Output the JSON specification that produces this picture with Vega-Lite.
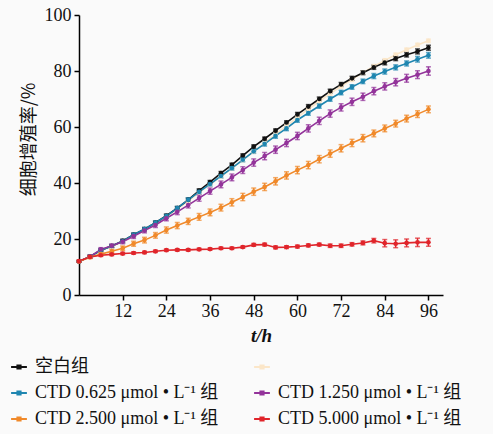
{
  "$schema": "https://vega.github.io/schema/vega-lite/v6.json",
  "autosize": {"type": "none"},
  "padding": {"left": 79, "top": 15, "right": 50, "bottom": 139},
  "width": 364,
  "height": 280,
  "background": "#fafafa",
  "config": {
    "font": "Liberation Serif, Noto Sans CJK SC",
    "view": {"stroke": null},
    "axis": {"grid": false, "domainColor": "#000", "domainWidth": 1.5, "tickColor": "#000", "tickWidth": 1.5, "tickSize": 5, "labelColor": "#111", "labelFontSize": 18, "labelFont": "Liberation Serif", "titleColor": "#111"}
  },
  "datasets": {
    "d": [
      {"t":0,"g":" ","v":12,"e":0.3},{"t":3,"g":" ","v":13.7,"e":0.5},{"t":6,"g":" ","v":15.8,"e":0.5},{"t":9,"g":" ","v":17.3,"e":0.5},{"t":12,"g":" ","v":19,"e":0.6},{"t":15,"g":" ","v":21.2,"e":0.6},{"t":18,"g":" ","v":23.3,"e":0.6},{"t":21,"g":" ","v":25.5,"e":0.6},{"t":24,"g":" ","v":28,"e":0.6},{"t":27,"g":" ","v":30.7,"e":0.6},{"t":30,"g":" ","v":33.5,"e":0.6},{"t":33,"g":" ","v":36.6,"e":0.6},{"t":36,"g":" ","v":39.5,"e":0.6},{"t":39,"g":" ","v":42.3,"e":0.6},{"t":42,"g":" ","v":45.2,"e":0.6},{"t":45,"g":" ","v":48.2,"e":0.6},{"t":48,"g":" ","v":51.2,"e":0.6},{"t":51,"g":" ","v":54.3,"e":0.6},{"t":54,"g":" ","v":57.4,"e":0.6},{"t":57,"g":" ","v":60.4,"e":0.6},{"t":60,"g":" ","v":63.4,"e":0.6},{"t":63,"g":" ","v":66.4,"e":0.6},{"t":66,"g":" ","v":69.2,"e":0.6},{"t":69,"g":" ","v":71.9,"e":0.6},{"t":72,"g":" ","v":74.5,"e":0.6},{"t":75,"g":" ","v":76.9,"e":0.6},{"t":78,"g":" ","v":79.4,"e":0.6},{"t":81,"g":" ","v":81.7,"e":0.6},{"t":84,"g":" ","v":83.8,"e":0.6},{"t":87,"g":" ","v":85.8,"e":0.6},{"t":90,"g":" ","v":87.6,"e":0.6},{"t":93,"g":" ","v":89.3,"e":0.6},{"t":96,"g":" ","v":90.8,"e":0.6},

      {"t":0,"g":"空白组","v":12,"e":0.3},{"t":3,"g":"空白组","v":13.7,"e":0.5},{"t":6,"g":"空白组","v":16,"e":0.5},{"t":9,"g":"空白组","v":17.5,"e":0.5},{"t":12,"g":"空白组","v":19.3,"e":0.6},{"t":15,"g":"空白组","v":21.5,"e":0.6},{"t":18,"g":"空白组","v":23.5,"e":0.6},{"t":21,"g":"空白组","v":25.8,"e":0.6},{"t":24,"g":"空白组","v":28.3,"e":0.6},{"t":27,"g":"空白组","v":31,"e":0.6},{"t":30,"g":"空白组","v":34,"e":0.6},{"t":33,"g":"空白组","v":37.3,"e":0.6},{"t":36,"g":"空白组","v":40.3,"e":0.6},{"t":39,"g":"空白组","v":43.5,"e":0.6},{"t":42,"g":"空白组","v":46.5,"e":0.6},{"t":45,"g":"空白组","v":49.8,"e":0.6},{"t":48,"g":"空白组","v":53,"e":0.6},{"t":51,"g":"空白组","v":55.8,"e":0.6},{"t":54,"g":"空白组","v":58.7,"e":0.6},{"t":57,"g":"空白组","v":61.6,"e":0.6},{"t":60,"g":"空白组","v":64.5,"e":0.7},{"t":63,"g":"空白组","v":67.3,"e":0.7},{"t":66,"g":"空白组","v":70,"e":0.7},{"t":69,"g":"空白组","v":72.8,"e":0.7},{"t":72,"g":"空白组","v":75.2,"e":0.7},{"t":75,"g":"空白组","v":77.4,"e":0.7},{"t":78,"g":"空白组","v":79.4,"e":0.7},{"t":81,"g":"空白组","v":81.3,"e":0.7},{"t":84,"g":"空白组","v":83,"e":0.8},{"t":87,"g":"空白组","v":84.5,"e":0.8},{"t":90,"g":"空白组","v":85.8,"e":0.8},{"t":93,"g":"空白组","v":87,"e":0.9},{"t":96,"g":"空白组","v":88.3,"e":0.9},

      {"t":0,"g":"CTD 0.625   μmol • L⁻¹ 组","v":12,"e":0.3},{"t":3,"g":"CTD 0.625   μmol • L⁻¹ 组","v":13.7,"e":0.5},{"t":6,"g":"CTD 0.625   μmol • L⁻¹ 组","v":16,"e":0.5},{"t":9,"g":"CTD 0.625   μmol • L⁻¹ 组","v":17.5,"e":0.5},{"t":12,"g":"CTD 0.625   μmol • L⁻¹ 组","v":19.2,"e":0.6},{"t":15,"g":"CTD 0.625   μmol • L⁻¹ 组","v":21.5,"e":0.6},{"t":18,"g":"CTD 0.625   μmol • L⁻¹ 组","v":23.5,"e":0.6},{"t":21,"g":"CTD 0.625   μmol • L⁻¹ 组","v":25.8,"e":0.6},{"t":24,"g":"CTD 0.625   μmol • L⁻¹ 组","v":28.2,"e":0.6},{"t":27,"g":"CTD 0.625   μmol • L⁻¹ 组","v":31,"e":0.6},{"t":30,"g":"CTD 0.625   μmol • L⁻¹ 组","v":34,"e":0.7},{"t":33,"g":"CTD 0.625   μmol • L⁻¹ 组","v":36.8,"e":0.7},{"t":36,"g":"CTD 0.625   μmol • L⁻¹ 组","v":39.6,"e":0.7},{"t":39,"g":"CTD 0.625   μmol • L⁻¹ 组","v":42.5,"e":0.7},{"t":42,"g":"CTD 0.625   μmol • L⁻¹ 组","v":45.3,"e":0.7},{"t":45,"g":"CTD 0.625   μmol • L⁻¹ 组","v":48.3,"e":0.7},{"t":48,"g":"CTD 0.625   μmol • L⁻¹ 组","v":51.3,"e":0.7},{"t":51,"g":"CTD 0.625   μmol • L⁻¹ 组","v":54,"e":0.8},{"t":54,"g":"CTD 0.625   μmol • L⁻¹ 组","v":56.8,"e":0.8},{"t":57,"g":"CTD 0.625   μmol • L⁻¹ 组","v":59.5,"e":0.8},{"t":60,"g":"CTD 0.625   μmol • L⁻¹ 组","v":62.5,"e":0.8},{"t":63,"g":"CTD 0.625   μmol • L⁻¹ 组","v":65,"e":0.8},{"t":66,"g":"CTD 0.625   μmol • L⁻¹ 组","v":67.5,"e":0.8},{"t":69,"g":"CTD 0.625   μmol • L⁻¹ 组","v":70,"e":0.8},{"t":72,"g":"CTD 0.625   μmol • L⁻¹ 组","v":72.3,"e":0.8},{"t":75,"g":"CTD 0.625   μmol • L⁻¹ 组","v":74.3,"e":0.8},{"t":78,"g":"CTD 0.625   μmol • L⁻¹ 组","v":76.3,"e":0.8},{"t":81,"g":"CTD 0.625   μmol • L⁻¹ 组","v":78.2,"e":0.9},{"t":84,"g":"CTD 0.625   μmol • L⁻¹ 组","v":79.8,"e":0.9},{"t":87,"g":"CTD 0.625   μmol • L⁻¹ 组","v":81.3,"e":0.9},{"t":90,"g":"CTD 0.625   μmol • L⁻¹ 组","v":82.7,"e":0.9},{"t":93,"g":"CTD 0.625   μmol • L⁻¹ 组","v":84.2,"e":1},{"t":96,"g":"CTD 0.625   μmol • L⁻¹ 组","v":85.6,"e":1},

      {"t":0,"g":"CTD 1.250   μmol • L⁻¹ 组","v":12,"e":0.3},{"t":3,"g":"CTD 1.250   μmol • L⁻¹ 组","v":13.7,"e":0.5},{"t":6,"g":"CTD 1.250   μmol • L⁻¹ 组","v":16.3,"e":0.6},{"t":9,"g":"CTD 1.250   μmol • L⁻¹ 组","v":17.6,"e":0.6},{"t":12,"g":"CTD 1.250   μmol • L⁻¹ 组","v":19,"e":0.7},{"t":15,"g":"CTD 1.250   μmol • L⁻¹ 组","v":21,"e":0.8},{"t":18,"g":"CTD 1.250   μmol • L⁻¹ 组","v":23,"e":0.8},{"t":21,"g":"CTD 1.250   μmol • L⁻¹ 组","v":25,"e":0.9},{"t":24,"g":"CTD 1.250   μmol • L⁻¹ 组","v":27.4,"e":0.9},{"t":27,"g":"CTD 1.250   μmol • L⁻¹ 组","v":29.7,"e":1},{"t":30,"g":"CTD 1.250   μmol • L⁻¹ 组","v":32.1,"e":1},{"t":33,"g":"CTD 1.250   μmol • L⁻¹ 组","v":34.6,"e":1.1},{"t":36,"g":"CTD 1.250   μmol • L⁻¹ 组","v":37.1,"e":1.1},{"t":39,"g":"CTD 1.250   μmol • L⁻¹ 组","v":39.5,"e":1.2},{"t":42,"g":"CTD 1.250   μmol • L⁻¹ 组","v":42,"e":1.2},{"t":45,"g":"CTD 1.250   μmol • L⁻¹ 组","v":44.6,"e":1.2},{"t":48,"g":"CTD 1.250   μmol • L⁻¹ 组","v":47.3,"e":1.3},{"t":51,"g":"CTD 1.250   μmol • L⁻¹ 组","v":49.6,"e":1.3},{"t":54,"g":"CTD 1.250   μmol • L⁻¹ 组","v":51.9,"e":1.3},{"t":57,"g":"CTD 1.250   μmol • L⁻¹ 组","v":54.3,"e":1.3},{"t":60,"g":"CTD 1.250   μmol • L⁻¹ 组","v":56.8,"e":1.3},{"t":63,"g":"CTD 1.250   μmol • L⁻¹ 组","v":59.5,"e":1.3},{"t":66,"g":"CTD 1.250   μmol • L⁻¹ 组","v":62.2,"e":1.3},{"t":69,"g":"CTD 1.250   μmol • L⁻¹ 组","v":64.8,"e":1.3},{"t":72,"g":"CTD 1.250   μmol • L⁻¹ 组","v":67,"e":1.3},{"t":75,"g":"CTD 1.250   μmol • L⁻¹ 组","v":69,"e":1.3},{"t":78,"g":"CTD 1.250   μmol • L⁻¹ 组","v":70.8,"e":1.3},{"t":81,"g":"CTD 1.250   μmol • L⁻¹ 组","v":72.8,"e":1.3},{"t":84,"g":"CTD 1.250   μmol • L⁻¹ 组","v":74.5,"e":1.3},{"t":87,"g":"CTD 1.250   μmol • L⁻¹ 组","v":76,"e":1.3},{"t":90,"g":"CTD 1.250   μmol • L⁻¹ 组","v":77.4,"e":1.4},{"t":93,"g":"CTD 1.250   μmol • L⁻¹ 组","v":78.7,"e":1.4},{"t":96,"g":"CTD 1.250   μmol • L⁻¹ 组","v":80,"e":1.5},

      {"t":0,"g":"CTD 2.500   μmol • L⁻¹ 组","v":12,"e":0.3},{"t":3,"g":"CTD 2.500   μmol • L⁻¹ 组","v":13.5,"e":0.5},{"t":6,"g":"CTD 2.500   μmol • L⁻¹ 组","v":14.6,"e":0.6},{"t":9,"g":"CTD 2.500   μmol • L⁻¹ 组","v":15.6,"e":0.7},{"t":12,"g":"CTD 2.500   μmol • L⁻¹ 组","v":16.7,"e":0.8},{"t":15,"g":"CTD 2.500   μmol • L⁻¹ 组","v":18.3,"e":0.9},{"t":18,"g":"CTD 2.500   μmol • L⁻¹ 组","v":19.6,"e":1},{"t":21,"g":"CTD 2.500   μmol • L⁻¹ 组","v":21.3,"e":1},{"t":24,"g":"CTD 2.500   μmol • L⁻¹ 组","v":23.2,"e":1.1},{"t":27,"g":"CTD 2.500   μmol • L⁻¹ 组","v":24.8,"e":1.1},{"t":30,"g":"CTD 2.500   μmol • L⁻¹ 组","v":26.3,"e":1.1},{"t":33,"g":"CTD 2.500   μmol • L⁻¹ 组","v":27.9,"e":1.2},{"t":36,"g":"CTD 2.500   μmol • L⁻¹ 组","v":29.5,"e":1.2},{"t":39,"g":"CTD 2.500   μmol • L⁻¹ 组","v":31.2,"e":1.2},{"t":42,"g":"CTD 2.500   μmol • L⁻¹ 组","v":33.1,"e":1.3},{"t":45,"g":"CTD 2.500   μmol • L⁻¹ 组","v":35,"e":1.3},{"t":48,"g":"CTD 2.500   μmol • L⁻¹ 组","v":36.9,"e":1.3},{"t":51,"g":"CTD 2.500   μmol • L⁻¹ 组","v":38.6,"e":1.3},{"t":54,"g":"CTD 2.500   μmol • L⁻¹ 组","v":40.6,"e":1.3},{"t":57,"g":"CTD 2.500   μmol • L⁻¹ 组","v":42.7,"e":1.3},{"t":60,"g":"CTD 2.500   μmol • L⁻¹ 组","v":44.6,"e":1.3},{"t":63,"g":"CTD 2.500   μmol • L⁻¹ 组","v":46.4,"e":1.3},{"t":66,"g":"CTD 2.500   μmol • L⁻¹ 组","v":48.5,"e":1.3},{"t":69,"g":"CTD 2.500   μmol • L⁻¹ 组","v":50.5,"e":1.3},{"t":72,"g":"CTD 2.500   μmol • L⁻¹ 组","v":52.4,"e":1.3},{"t":75,"g":"CTD 2.500   μmol • L⁻¹ 组","v":54.3,"e":1.3},{"t":78,"g":"CTD 2.500   μmol • L⁻¹ 组","v":56,"e":1.3},{"t":81,"g":"CTD 2.500   μmol • L⁻¹ 组","v":57.7,"e":1.2},{"t":84,"g":"CTD 2.500   μmol • L⁻¹ 组","v":59.5,"e":1.2},{"t":87,"g":"CTD 2.500   μmol • L⁻¹ 组","v":61.2,"e":1.2},{"t":90,"g":"CTD 2.500   μmol • L⁻¹ 组","v":63,"e":1.2},{"t":93,"g":"CTD 2.500   μmol • L⁻¹ 组","v":64.6,"e":1.2},{"t":96,"g":"CTD 2.500   μmol • L⁻¹ 组","v":66.3,"e":1.2},

      {"t":0,"g":"CTD 5.000   μmol • L⁻¹ 组","v":12.1,"e":0.3},{"t":3,"g":"CTD 5.000   μmol • L⁻¹ 组","v":13.6,"e":0.4},{"t":6,"g":"CTD 5.000   μmol • L⁻¹ 组","v":14.2,"e":0.4},{"t":9,"g":"CTD 5.000   μmol • L⁻¹ 组","v":14.5,"e":0.4},{"t":12,"g":"CTD 5.000   μmol • L⁻¹ 组","v":14.8,"e":0.4},{"t":15,"g":"CTD 5.000   μmol • L⁻¹ 组","v":15,"e":0.4},{"t":18,"g":"CTD 5.000   μmol • L⁻¹ 组","v":15.2,"e":0.4},{"t":21,"g":"CTD 5.000   μmol • L⁻¹ 组","v":15.6,"e":0.4},{"t":24,"g":"CTD 5.000   μmol • L⁻¹ 组","v":16,"e":0.4},{"t":27,"g":"CTD 5.000   μmol • L⁻¹ 组","v":16.1,"e":0.4},{"t":30,"g":"CTD 5.000   μmol • L⁻¹ 组","v":16.1,"e":0.4},{"t":33,"g":"CTD 5.000   μmol • L⁻¹ 组","v":16.3,"e":0.4},{"t":36,"g":"CTD 5.000   μmol • L⁻¹ 组","v":16.4,"e":0.4},{"t":39,"g":"CTD 5.000   μmol • L⁻¹ 组","v":16.7,"e":0.4},{"t":42,"g":"CTD 5.000   μmol • L⁻¹ 组","v":16.7,"e":0.4},{"t":45,"g":"CTD 5.000   μmol • L⁻¹ 组","v":17.1,"e":0.4},{"t":48,"g":"CTD 5.000   μmol • L⁻¹ 组","v":17.9,"e":0.5},{"t":51,"g":"CTD 5.000   μmol • L⁻¹ 组","v":18,"e":0.5},{"t":54,"g":"CTD 5.000   μmol • L⁻¹ 组","v":17,"e":0.5},{"t":57,"g":"CTD 5.000   μmol • L⁻¹ 组","v":17.1,"e":0.5},{"t":60,"g":"CTD 5.000   μmol • L⁻¹ 组","v":17.3,"e":0.5},{"t":63,"g":"CTD 5.000   μmol • L⁻¹ 组","v":17.7,"e":0.5},{"t":66,"g":"CTD 5.000   μmol • L⁻¹ 组","v":18,"e":0.5},{"t":69,"g":"CTD 5.000   μmol • L⁻¹ 组","v":17.6,"e":0.6},{"t":72,"g":"CTD 5.000   μmol • L⁻¹ 组","v":17.6,"e":0.6},{"t":75,"g":"CTD 5.000   μmol • L⁻¹ 组","v":18.1,"e":0.6},{"t":78,"g":"CTD 5.000   μmol • L⁻¹ 组","v":18.6,"e":0.7},{"t":81,"g":"CTD 5.000   μmol • L⁻¹ 组","v":19.4,"e":0.8},{"t":84,"g":"CTD 5.000   μmol • L⁻¹ 组","v":18.5,"e":1.3},{"t":87,"g":"CTD 5.000   μmol • L⁻¹ 组","v":18.3,"e":1.4},{"t":90,"g":"CTD 5.000   μmol • L⁻¹ 组","v":18.6,"e":1.4},{"t":93,"g":"CTD 5.000   μmol • L⁻¹ 组","v":18.8,"e":1.5},{"t":96,"g":"CTD 5.000   μmol • L⁻¹ 组","v":18.8,"e":1.4}
    ]
  },
  "data": {"name": "d"},
  "encoding": {
    "x": {"field": "t", "type": "quantitative", "scale": {"domain": [0, 100], "nice": false},
      "axis": {"values": [12, 24, 36, 48, 60, 72, 84, 96], "title": "t/h", "titleFontSize": 19, "titleFontWeight": "bold", "titleFontStyle": "italic", "titlePadding": 6, "labelPadding": 2}},
    "y": {"field": "v", "type": "quantitative", "scale": {"domain": [0, 100], "nice": false},
      "axis": {"values": [0, 20, 40, 60, 80, 100], "title": "细胞增殖率/%", "titleFont": "Noto Sans CJK SC", "titleFontSize": 18, "titleFontWeight": "normal", "titlePadding": 6, "titleY": 124, "labelPadding": 3}},
    "color": {"field": "g", "type": "nominal",
      "scale": {"domain": ["空白组", "CTD 0.625   μmol • L⁻¹ 组", "CTD 2.500   μmol • L⁻¹ 组", " ", "CTD 1.250   μmol • L⁻¹ 组", "CTD 5.000   μmol • L⁻¹ 组"],
                "range": ["#111111", "#1f86b0", "#f0892a", "#fbe6c8", "#93339a", "#e0242a"]},
      "legend": {"orient": "none", "legendX": -69, "legendY": 343, "columns": 2, "title": null,
        "labelFontSize": 18, "labelColor": "#111", "labelFont": "Liberation Serif, Noto Sans CJK SC", "labelLimit": 0,
        "symbolType": "M-1,0L1,0M-0.2,-0.2L0.2,-0.2L0.2,0.2L-0.2,0.2Z", "symbolSize": 250, "symbolStrokeWidth": 2,
        "symbolFillColor": "transparent", "symbolOpacity": 1,
        "rowPadding": 8, "columnPadding": 22, "labelOffset": 7}}
  },
  "layer": [
    {"mark": {"type": "line", "strokeWidth": 1.6}},
    {"mark": {"type": "errorbar", "ticks": {"size": 5, "strokeWidth": 1.5}, "thickness": 1.5},
     "encoding": {"yError": {"field": "e"}}},
    {"mark": {"type": "point", "filled": true, "opacity": 1, "size": 22, "shape": "circle"}}
  ]
}
